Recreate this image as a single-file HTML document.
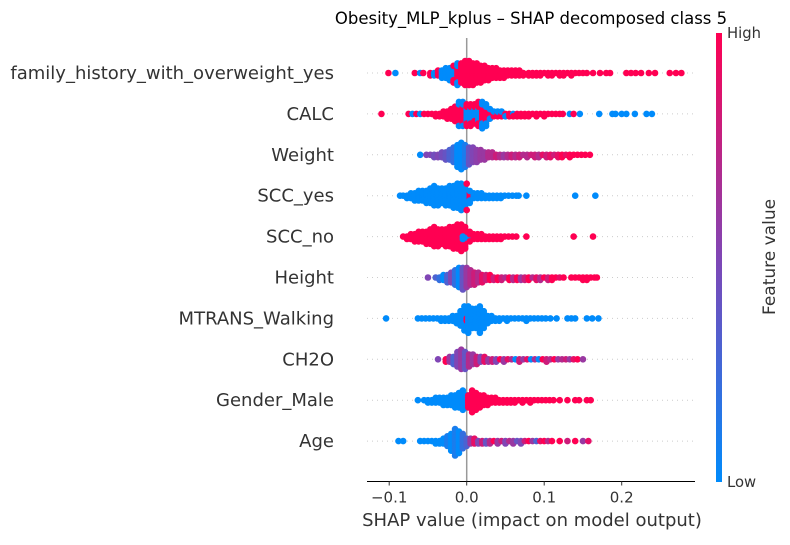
<!DOCTYPE html>
<html><head><meta charset="utf-8"><style>
body{margin:0;background:#fff;}
svg{font-family:"DejaVu Sans","Liberation Sans",sans-serif;}
</style></head><body>
<svg id="chart" width="790" height="540">
<defs><linearGradient id="cb" x1="0" y1="1" x2="0" y2="0"><stop offset="0" stop-color="#008bfb"/><stop offset="0.5" stop-color="#8046b5"/><stop offset="1" stop-color="#ff0052"/></linearGradient></defs>
<text x="531" y="24" font-size="16.5" text-anchor="middle" fill="#000">Obesity_MLP_kplus – SHAP decomposed class 5</text>
<g id="grid"></g><g id="pts"></g><g id="labels"></g><g id="axis"></g>
<rect x="716" y="33" width="6" height="449" fill="url(#cb)"/>
<text x="727" y="38" font-size="14.8" fill="#333">High</text>
<text x="727" y="487" font-size="14.8" fill="#333">Low</text>
<text transform="translate(775,257) rotate(-90)" font-size="17" text-anchor="middle" fill="#333">Feature value</text>
<text x="532" y="526" font-size="18" text-anchor="middle" fill="#333">SHAP value (impact on model output)</text>
</svg>
<script>
const features=["family_history_with_overweight_yes","CALC","Weight","SCC_yes","SCC_no","Height","MTRANS_Walking","CH2O","Gender_Male","Age"];
const xTicks=[-0.1,0,0.1,0.2];
const xTickLabels=["\u22120.1","0.0","0.1","0.2"];
// each entry: [shap value, count of samples, feature value 0..1]
const rowFamily=[[-0.101,1,1],[-0.092,1,0],[-0.067,1,1],[-0.06,1,0],[-0.056,1,1],[-0.047,2,1],[-0.042,2,0],[-0.037,3,1],[-0.032,4,0],[-0.027,5,0],[-0.022,6,0],[-0.017,5,0],[-0.017,3,1],[-0.012,6,1],[-0.012,4,0],[-0.007,9,1],[-0.002,11,1],[0.003,11,1],[0.008,10,1],[0.013,9,1],[0.018,8,1],[0.023,7,1],[0.028,6,1],[0.033,5,1],[0.038,5,1],[0.043,4,1],[0.048,4,1],[0.053,3,1],[0.058,3,1],[0.063,3,1],[0.068,3,1],[0.073,2,1],[0.08,2,1],[0.085,2,1],[0.09,2,1],[0.095,2,1],[0.1,1,1],[0.105,2,1],[0.11,2,1],[0.115,1,1],[0.12,2,1],[0.125,2,1],[0.13,1,1],[0.135,2,1],[0.14,1,1],[0.145,1,1],[0.15,1,1],[0.155,1,1],[0.163,1,1],[0.172,1,1],[0.18,1,1],[0.185,1,1],[0.206,1,1],[0.212,1,1],[0.218,1,1],[0.225,1,1],[0.235,1,1],[0.243,1,1],[0.262,1,1],[0.27,1,1],[0.277,1,1]];
const rowCALC=[[-0.11,1,1],[-0.075,1,1],[-0.07,1,0],[-0.065,1,1],[-0.06,1,0],[-0.055,1,1],[-0.05,1,1],[-0.045,1,1],[-0.04,2,1],[-0.035,2,1],[-0.03,3,1],[-0.025,4,1],[-0.02,5,1],[-0.015,7,1],[-0.01,8,1],[-0.01,3,0],[-0.005,8,1],[-0.005,3,0],[0,6,0],[0,4,1],[0.005,6,0],[0.005,4,1],[0.01,5,0],[0.01,4,1],[0.015,6,0],[0.015,5,1],[0.02,7,1],[0.02,5,0],[0.025,6,1],[0.025,4,0],[0.03,3,1],[0.03,2,0],[0.035,2,1],[0.035,1,0],[0.04,2,1],[0.04,1,0],[0.045,2,1],[0.045,1,0],[0.05,1,1],[0.05,1,0],[0.055,2,1],[0.06,1,0],[0.06,1,1],[0.065,2,1],[0.07,2,1],[0.075,2,1],[0.08,2,1],[0.085,1,1],[0.09,2,1],[0.095,1,1],[0.1,2,1],[0.105,1,1],[0.11,1,1],[0.115,1,1],[0.12,1,1],[0.124,1,1],[0.133,1,0],[0.138,1,1],[0.146,1,0],[0.171,1,0],[0.188,1,0],[0.192,1,0],[0.2,1,0],[0.206,1,0],[0.217,1,0],[0.232,1,0],[0.239,1,0]];
const rowWeight=[[-0.06,1,0],[-0.052,1,0.5],[-0.047,1,0.5],[-0.042,2,0.45],[-0.037,2,0.5],[-0.032,3,0.45],[-0.027,4,0.4],[-0.022,5,0.3],[-0.017,7,0.2],[-0.012,10,0],[-0.007,12,0],[-0.002,10,0.1],[0.003,8,0.4],[0.008,7,0.5],[0.013,6,0.55],[0.018,5,0.6],[0.023,4,0.6],[0.028,3,0.7],[0.033,3,0.7],[0.038,2,0.8],[0.043,2,0.7],[0.048,2,0.6],[0.053,2,0.7],[0.058,2,0.8],[0.063,2,0.7],[0.068,2,0.8],[0.073,1,0.7],[0.078,2,0.7],[0.083,1,0.8],[0.088,2,0.8],[0.093,2,0.7],[0.098,1,0.9],[0.103,2,0.8],[0.108,2,0.9],[0.113,1,0.8],[0.118,2,0.9],[0.123,2,1],[0.128,1,0.9],[0.133,2,1],[0.138,1,1],[0.143,1,1],[0.148,1,1],[0.153,1,1],[0.159,1,1]];
const rowSCCyes=[[-0.086,1,0],[-0.082,1,0],[-0.077,2,0],[-0.072,3,0],[-0.067,4,0],[-0.062,5,0],[-0.057,5,0],[-0.052,6,0],[-0.047,7,0],[-0.042,9,0],[-0.037,8,0],[-0.032,7,0],[-0.027,8,0],[-0.022,9,0],[-0.017,10,0],[-0.012,11,0],[-0.007,12,0],[-0.002,10,0],[0.0,2,1],[0.004,3,1],[0.004,3,0],[0.009,3,0],[0.014,3,0],[0.019,3,0],[0.024,2,0],[0.029,2,0],[0.034,2,0],[0.039,2,0],[0.044,2,0],[0.049,1,0],[0.054,1,0],[0.059,1,0],[0.064,1,0],[0.067,1,0],[0.077,1,0],[0.14,1,0],[0.166,1,0]];
const rowSCCno=[[-0.082,1,1],[-0.077,2,1],[-0.072,3,1],[-0.067,4,1],[-0.062,5,1],[-0.057,5,1],[-0.052,6,1],[-0.047,7,1],[-0.042,9,1],[-0.037,8,1],[-0.032,7,1],[-0.027,8,1],[-0.022,9,1],[-0.017,10,1],[-0.012,11,1],[-0.007,12,1],[-0.002,10,1],[-0.005,2,0],[0.003,2,0],[0.004,3,1],[0.009,3,1],[0.014,3,1],[0.019,3,1],[0.024,2,1],[0.029,2,1],[0.034,2,1],[0.039,2,1],[0.044,2,1],[0.049,1,1],[0.054,1,1],[0.059,1,1],[0.064,1,1],[0.077,1,1],[0.138,1,1],[0.163,1,1]];
const rowHeight=[[-0.05,1,0.5],[-0.04,1,0.3],[-0.035,2,0.2],[-0.03,3,0],[-0.025,4,0.3],[-0.02,5,0.5],[-0.015,7,0.2],[-0.01,9,0],[-0.005,10,0.4],[0.0,9,0.6],[0.005,7,0.7],[0.01,6,0.8],[0.015,5,0.7],[0.02,4,0.9],[0.025,3,0.8],[0.03,3,1],[0.035,2,0.8],[0.04,2,1],[0.045,2,0.8],[0.05,1,0.7],[0.055,2,1],[0.06,2,0.7],[0.065,2,1],[0.07,2,0.6],[0.075,2,0.8],[0.08,2,1],[0.085,1,0.7],[0.09,2,0.9],[0.095,2,0.7],[0.1,1,1],[0.105,2,0.8],[0.11,2,1],[0.115,1,1],[0.12,1,0.9],[0.125,1,1],[0.135,1,1],[0.14,1,1],[0.145,1,1],[0.15,2,1],[0.155,2,1],[0.16,1,1],[0.165,1,1],[0.168,1,1]];
const rowMTRANS=[[-0.104,1,0],[-0.063,1,0],[-0.058,1,0],[-0.053,1,0],[-0.048,1,0],[-0.043,1,0],[-0.038,1,0],[-0.033,2,0],[-0.028,2,0],[-0.023,2,0],[-0.018,3,0],[-0.013,4,0],[-0.008,7,0],[-0.003,11,0],[0.0,2,1],[0.002,12,0],[0.007,9,0],[0.012,9,0],[0.017,12,0],[0.022,8,0],[0.027,4,0],[0.032,3,0],[0.037,2,0],[0.042,2,0],[0.047,1,0],[0.052,2,0],[0.057,1,0],[0.062,1,0],[0.067,1,0],[0.072,1,0],[0.077,2,0],[0.082,1,0],[0.087,1,0],[0.092,1,0],[0.097,1,0],[0.102,1,0],[0.108,1,0],[0.116,1,0],[0.13,1,0],[0.135,1,0],[0.14,1,0],[0.155,1,0],[0.162,1,0],[0.17,1,0]];
const rowCH2O=[[-0.037,1,0.5],[-0.027,2,1],[-0.022,3,0.6],[-0.017,4,0.3],[-0.012,7,0.5],[-0.007,9,0.6],[-0.002,8,0.4],[0.003,6,0.7],[0.008,5,0.6],[0.013,4,0.8],[0.018,3,0.5],[0.023,3,0.9],[0.028,2,0.6],[0.033,2,0.8],[0.038,2,0.5],[0.043,1,1],[0.048,2,0.6],[0.053,1,0.9],[0.058,1,0.7],[0.063,1,0],[0.068,2,0.8],[0.073,1,0.6],[0.078,1,0.9],[0.083,1,0],[0.088,1,0.7],[0.093,1,0],[0.098,1,1],[0.103,2,0.8],[0.108,1,0.7],[0.113,1,1],[0.118,1,0.6],[0.123,1,0.7],[0.128,1,0.8],[0.133,1,0.6],[0.138,1,0.9],[0.143,1,1],[0.15,1,0.6]];
const rowGender=[[-0.063,1,0],[-0.055,1,0],[-0.05,2,0],[-0.045,2,0],[-0.04,3,0],[-0.035,3,0],[-0.03,4,0],[-0.025,4,0],[-0.02,5,0],[-0.015,6,0],[-0.01,7,0],[-0.005,9,0],[0.0,6,0],[0.002,6,1],[0.007,10,1],[0.012,8,1],[0.017,6,1],[0.022,5,1],[0.027,4,1],[0.032,3,1],[0.037,3,1],[0.042,2,1],[0.047,2,1],[0.052,2,1],[0.057,2,1],[0.062,2,1],[0.067,1,1],[0.072,2,1],[0.077,1,1],[0.082,2,1],[0.087,1,1],[0.092,1,1],[0.097,1,1],[0.102,1,1],[0.107,1,1],[0.112,1,1],[0.12,1,1],[0.13,1,1],[0.14,1,1],[0.145,1,1],[0.155,1,1],[0.16,1,1]];
const rowAge=[[-0.088,1,0],[-0.082,1,0],[-0.06,1,0],[-0.055,1,0],[-0.05,1,0],[-0.045,1,0],[-0.04,2,0],[-0.035,2,0],[-0.03,3,0],[-0.025,5,0.1],[-0.02,8,0],[-0.015,12,0.1],[-0.01,10,0],[-0.005,7,0.2],[0.0,4,0.3],[0.005,3,0.6],[0.01,3,0.9],[0.015,2,0.5],[0.02,2,0.8],[0.025,2,0.4],[0.03,2,0.7],[0.035,1,1],[0.04,2,0.6],[0.045,1,0.8],[0.05,2,0.5],[0.055,1,0.7],[0.06,2,0.6],[0.065,1,0.4],[0.07,2,0.5],[0.075,1,0.8],[0.08,1,1],[0.085,1,0.6],[0.09,1,0.3],[0.095,1,0.9],[0.1,1,1],[0.105,1,0.7],[0.11,1,1],[0.12,1,1],[0.13,1,0.8],[0.14,1,1],[0.15,1,0.6],[0.157,1,0.9]];
const rows=[rowFamily,rowCALC,rowWeight,rowSCCyes,rowSCCno,rowHeight,rowMTRANS,rowCH2O,rowGender,rowAge];

const NS="http://www.w3.org/2000/svg";
const X0=466.7, XS=775, AXY=481.5;
function xScale(v){return X0+v*XS;}
function yRow(i){return 73+i*40.9;}
function color(t){
  let a,b,u;
  if(t<0.5){a=[0,139,251];b=[128,70,181];u=t/0.5;}else{a=[128,70,181];b=[255,0,82];u=(t-0.5)/0.5;}
  return "rgb("+a.map((c,k)=>Math.round(c+(b[k]-c)*u)).join(",")+")";
}
function mk(tag,attrs,parent){const e=document.createElementNS(NS,tag);for(const k in attrs)e.setAttribute(k,attrs[k]);parent.appendChild(e);return e;}
const grid=document.getElementById("grid"),pts=document.getElementById("pts"),labels=document.getElementById("labels"),axis=document.getElementById("axis");
features.forEach((f,i)=>{
  const y=yRow(i);
  const g=mk("line",{x1:367,x2:695,y1:y,y2:y,stroke:"#ccc","stroke-width":1,"stroke-dasharray":"1,4"},grid);
  
  
  const t=mk("text",{x:334,y:y+6,"font-size":18,"text-anchor":"end",fill:"#333"},labels);
  t.textContent=f;
  
  
});
const zl=mk("line",{x1:X0,x2:X0,y1:38,y2:AXY,stroke:"#999","stroke-width":1.5},grid);


rows.forEach((data,i)=>{
  const y=yRow(i);const bins={};
  const grp=mk("g",{},pts);
  
  
  data.forEach(d=>{
    const key=Math.round(d[0]/0.004);
    for(let n=0;n<d[1];n++){
      const k=bins[key]||0;bins[key]=k+1;
      const off=((k+1)>>1)*2.4*(k%2?1:-1);
      const c=mk("circle",{cx:xScale(d[0]),cy:y+off,r:3.3,fill:color(d[2])},grp);
      
      
    }
  });
});
const ax=mk("line",{x1:367,x2:695,y1:AXY,y2:AXY,stroke:"#000","stroke-width":1},axis);


xTicks.forEach((v,i)=>{
  const x=xScale(v);
  const tk=mk("line",{x1:x,x2:x,y1:AXY,y2:AXY+4,stroke:"#333"},axis);
  
  
  const tl=mk("text",{x:x,y:AXY+21,"font-size":15,"text-anchor":"middle",fill:"#333"},axis);
  tl.textContent=xTickLabels[i];
  
  
});
</script>
</body></html>
